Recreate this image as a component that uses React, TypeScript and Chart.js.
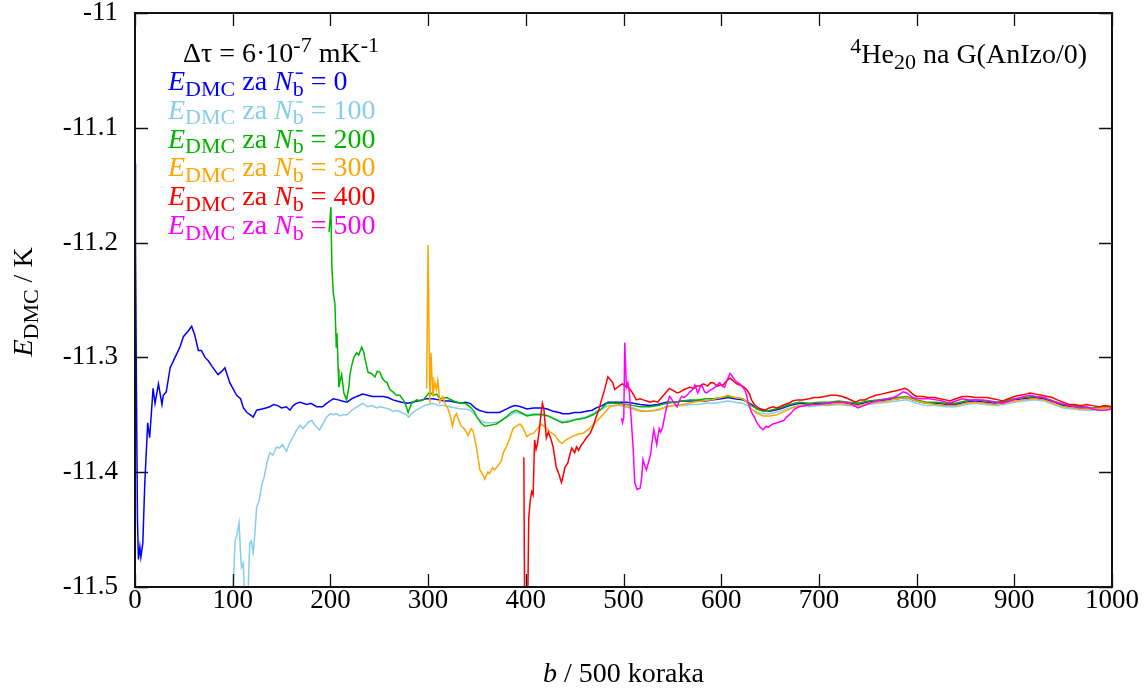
import { useEffect, useRef } from "react";
import { Chart, registerables } from "chart.js";

Chart.register(...registerables);

// ---------- data (b / 500 koraka, E_DMC / K) ----------
const nbLabels = ["0", "100", "200", "300", "400", "500"];
const seriesColors = ["#0000ff", "#87ceeb", "#00b400", "#ffa500", "#ff0000", "#ff00ff"];

const xTickValues = [0, 100, 200, 300, 400, 500, 600, 700, 800, 900, 1000];
const yTickValues = [-11.5, -11.4, -11.3, -11.2, -11.1, -11.0];

const eN0: [number, number][] = [
  [0, -11.131], [0.5, -11.2], [1.5, -11.33], [2.5, -11.44], [3.5, -11.476], [5, -11.465], [6, -11.474],
  [8, -11.462], [10, -11.41], [13, -11.357], [15, -11.37], [18.5, -11.327], [20.5, -11.34], [24, -11.323],
  [27.6, -11.341], [29, -11.333], [32, -11.33], [36, -11.309], [41, -11.3], [46, -11.291], [49.5, -11.282],
  [54.5, -11.277], [58, -11.273], [61, -11.28], [64.8, -11.294], [68, -11.294], [71.6, -11.3], [75, -11.303],
  [79, -11.308], [85, -11.315], [89, -11.312], [92, -11.309], [97, -11.322], [104, -11.333], [108, -11.336],
  [111, -11.344], [114.6, -11.348], [118, -11.35], [121, -11.352], [124.5, -11.346], [130, -11.345],
  [134, -11.344], [138, -11.343], [142, -11.341], [146, -11.342], [150, -11.344], [155, -11.343],
  [158.6, -11.346], [162, -11.342], [165, -11.34], [169, -11.339], [172, -11.34], [176, -11.341],
  [180, -11.34], [186, -11.343], [192, -11.343], [196, -11.34], [203, -11.336], [208, -11.337],
  [212, -11.338], [217, -11.339], [222, -11.336], [227, -11.334], [233, -11.332], [238, -11.333],
  [243, -11.334], [249, -11.334], [254, -11.334], [259, -11.335], [264, -11.337], [268, -11.338],
  [273, -11.339], [279, -11.34], [284, -11.339], [289, -11.338], [294, -11.337], [298, -11.336],
  [305, -11.336], [311, -11.337], [317, -11.338], [322, -11.338], [328, -11.339], [334, -11.34],
  [338, -11.339], [343, -11.34], [348, -11.344], [352, -11.346], [356, -11.347], [360, -11.348],
  [366, -11.348], [373, -11.348], [380, -11.345], [385, -11.343], [389, -11.342], [395, -11.343],
  [401, -11.345], [408, -11.344], [417, -11.344], [422, -11.345], [428, -11.347], [434, -11.348],
  [438, -11.349], [444, -11.349], [450, -11.348], [456, -11.348], [462, -11.347], [468, -11.346],
  [472, -11.344], [478, -11.342], [484, -11.339], [490, -11.339], [496, -11.339], [503, -11.339],
  [510, -11.34], [517, -11.341], [527, -11.342], [535, -11.341], [544, -11.339], [552, -11.339],
  [560, -11.338], [568, -11.338], [576, -11.338], [584, -11.338], [592, -11.337], [600, -11.336],
  [607, -11.335], [614, -11.336], [622, -11.337], [627, -11.339], [631, -11.341], [637, -11.345],
  [643, -11.346], [650, -11.347], [660, -11.345], [670, -11.342], [680, -11.34], [690, -11.341],
  [700, -11.34], [710, -11.34], [720, -11.339], [730, -11.34], [740, -11.341], [750, -11.339],
  [760, -11.338], [770, -11.337], [780, -11.336], [790, -11.335], [800, -11.338], [810, -11.34],
  [820, -11.34], [830, -11.341], [840, -11.341], [850, -11.339], [860, -11.338], [870, -11.339],
  [880, -11.34], [890, -11.339], [900, -11.337], [910, -11.336], [920, -11.335], [930, -11.336],
  [940, -11.339], [950, -11.342], [960, -11.343], [970, -11.344], [980, -11.345], [990, -11.344],
  [1000, -11.344],
];

const eN100: [number, number][] = [
  [99, -11.52], [101, -11.49], [102.5, -11.46], [104, -11.456], [106.5, -11.444], [108, -11.47],
  [109, -11.483], [111, -11.479], [112.5, -11.52], [115, -11.52], [117.5, -11.462], [119, -11.46],
  [121, -11.47], [123, -11.45], [124.5, -11.43], [127, -11.425], [130, -11.41], [132, -11.405],
  [135, -11.392], [138, -11.383], [141, -11.385], [145, -11.378], [148, -11.379], [151, -11.376],
  [155, -11.382], [158, -11.375], [162, -11.369], [165, -11.364], [169, -11.359], [172, -11.362],
  [174, -11.36], [178, -11.356], [181, -11.355], [185, -11.36], [189, -11.363], [193, -11.357],
  [196, -11.352], [200, -11.349], [203, -11.35], [206, -11.349], [210, -11.351], [213, -11.35],
  [217, -11.35], [222, -11.346], [227, -11.343], [233, -11.34], [238, -11.343], [243, -11.342],
  [247, -11.344], [251, -11.343], [256, -11.344], [260, -11.345], [264, -11.347], [268, -11.346],
  [273, -11.348], [278, -11.35], [280, -11.352], [284, -11.348], [288, -11.346], [292, -11.344],
  [296, -11.342], [300, -11.341], [305, -11.34], [311, -11.342], [317, -11.342], [322, -11.343],
  [328, -11.344], [334, -11.345], [338, -11.345], [343, -11.346], [348, -11.35], [352, -11.354],
  [356, -11.356], [360, -11.357], [366, -11.357], [373, -11.356], [380, -11.352], [385, -11.35],
  [389, -11.348], [395, -11.349], [401, -11.35], [408, -11.349], [414, -11.349], [420, -11.35],
  [428, -11.353], [434, -11.355], [438, -11.356], [444, -11.355], [450, -11.354], [456, -11.353],
  [462, -11.352], [468, -11.349], [472, -11.347], [478, -11.345], [484, -11.342], [490, -11.342],
  [496, -11.342], [503, -11.343], [510, -11.344], [517, -11.346], [527, -11.347], [535, -11.346],
  [544, -11.343], [552, -11.342], [560, -11.342], [568, -11.341], [576, -11.341], [584, -11.34],
  [592, -11.34], [600, -11.339], [607, -11.338], [614, -11.339], [622, -11.34], [627, -11.342],
  [631, -11.345], [637, -11.348], [643, -11.349], [650, -11.349], [660, -11.347], [670, -11.344],
  [680, -11.342], [690, -11.343], [700, -11.342], [710, -11.342], [720, -11.341], [730, -11.342],
  [740, -11.343], [750, -11.341], [760, -11.34], [770, -11.339], [780, -11.338], [790, -11.337],
  [800, -11.34], [810, -11.342], [820, -11.342], [830, -11.343], [840, -11.343], [850, -11.341],
  [860, -11.34], [870, -11.341], [880, -11.342], [890, -11.341], [900, -11.339], [910, -11.338],
  [920, -11.337], [930, -11.338], [940, -11.341], [950, -11.344], [960, -11.345], [970, -11.346],
  [980, -11.346], [990, -11.345], [1000, -11.345],
];

const eN200: [number, number][] = [
  [198.6, -11.191], [200.5, -11.169], [201.5, -11.221], [203, -11.244], [204.6, -11.253], [205.6, -11.279],
  [206, -11.291], [206.7, -11.279], [208, -11.31], [208.7, -11.326], [210, -11.32], [211.5, -11.315],
  [213.8, -11.331], [216.5, -11.337], [218.9, -11.326], [220, -11.315], [221.6, -11.308], [224, -11.3],
  [226.9, -11.296], [229, -11.298], [232, -11.291], [234, -11.295], [235.6, -11.302], [238.6, -11.313],
  [242, -11.314], [245.6, -11.317], [248, -11.312], [250.7, -11.313], [253, -11.318], [255.8, -11.321],
  [258, -11.322], [260.9, -11.328], [264, -11.33], [267.7, -11.333], [271, -11.333], [274.5, -11.337],
  [277, -11.341], [279.6, -11.348], [283, -11.34], [288.4, -11.337], [292, -11.338], [295, -11.337],
  [298, -11.334], [301.8, -11.33], [305, -11.333], [308.6, -11.332], [312, -11.336], [319, -11.335],
  [326, -11.338], [333, -11.34], [338, -11.34], [343, -11.343], [347, -11.347], [350, -11.352],
  [354, -11.357], [358, -11.36], [364, -11.359], [370, -11.358], [375, -11.355], [380, -11.352],
  [385, -11.348], [390, -11.346], [395, -11.348], [401, -11.351], [408, -11.35], [417, -11.35],
  [423, -11.351], [430, -11.354], [437, -11.357], [444, -11.356], [452, -11.354], [460, -11.353],
  [469, -11.35], [476, -11.346], [483, -11.34], [490, -11.34], [496, -11.34], [503, -11.341],
  [510, -11.342], [517, -11.343], [527, -11.343], [535, -11.342], [544, -11.34], [552, -11.339],
  [560, -11.338], [568, -11.337], [576, -11.337], [584, -11.336], [592, -11.336], [600, -11.335],
  [607, -11.334], [614, -11.335], [622, -11.336], [627, -11.339], [631, -11.342], [637, -11.345],
  [643, -11.347], [650, -11.346], [660, -11.344], [670, -11.341], [680, -11.339], [690, -11.34],
  [700, -11.339], [710, -11.339], [720, -11.338], [730, -11.339], [740, -11.34], [750, -11.338],
  [760, -11.337], [770, -11.336], [780, -11.335], [790, -11.334], [800, -11.337], [810, -11.339],
  [820, -11.339], [830, -11.34], [840, -11.34], [850, -11.338], [860, -11.337], [870, -11.338],
  [880, -11.339], [890, -11.338], [900, -11.336], [910, -11.335], [920, -11.334], [930, -11.335],
  [940, -11.338], [950, -11.341], [960, -11.342], [970, -11.343], [980, -11.344], [990, -11.343],
  [1000, -11.343],
];

const eN300: [number, number][] = [
  [298.5, -11.327], [300, -11.202], [301.8, -11.34], [303, -11.296], [304, -11.317], [305, -11.334],
  [306.9, -11.322], [308.6, -11.328], [310, -11.32], [312, -11.339], [315, -11.334], [317, -11.34],
  [320, -11.344], [323, -11.352], [325, -11.36], [327, -11.352], [329, -11.349], [332, -11.356],
  [334, -11.36], [337, -11.362], [341, -11.368], [344, -11.362], [346, -11.364], [348, -11.372],
  [350, -11.381], [353, -11.398], [356, -11.402], [358, -11.406], [361, -11.4], [363, -11.401],
  [366, -11.396], [368, -11.398], [372, -11.394], [375, -11.39], [377, -11.383], [380, -11.378],
  [382, -11.374], [385, -11.367], [387, -11.362], [390, -11.36], [394, -11.358], [397, -11.361],
  [401, -11.369], [404, -11.367], [408, -11.366], [412, -11.362], [416, -11.358], [420, -11.361],
  [425, -11.365], [430, -11.368], [434, -11.373], [437, -11.375], [441, -11.372], [447, -11.369],
  [453, -11.367], [459, -11.366], [465, -11.362], [472, -11.356], [479, -11.35], [486, -11.343],
  [491, -11.342], [496, -11.341], [503, -11.343], [510, -11.345], [517, -11.347], [524, -11.347],
  [532, -11.346], [538, -11.345], [544, -11.343], [552, -11.342], [560, -11.341], [571, -11.339],
  [580, -11.338], [590, -11.337], [600, -11.335], [607, -11.333], [614, -11.335], [622, -11.336],
  [627, -11.34], [631, -11.345], [637, -11.349], [643, -11.351], [650, -11.351], [657, -11.35],
  [665, -11.347], [673, -11.344], [680, -11.342], [690, -11.342], [700, -11.341], [710, -11.341],
  [720, -11.34], [730, -11.341], [740, -11.342], [750, -11.34], [760, -11.339], [770, -11.338],
  [780, -11.336], [790, -11.335], [800, -11.338], [810, -11.34], [820, -11.341], [830, -11.342],
  [840, -11.342], [850, -11.34], [860, -11.339], [870, -11.34], [880, -11.341], [890, -11.34],
  [900, -11.338], [910, -11.337], [920, -11.336], [930, -11.337], [940, -11.34], [950, -11.343],
  [960, -11.344], [970, -11.345], [980, -11.345], [990, -11.344], [1000, -11.344],
];

const eN400: [number, number][] = [
  [398, -11.387], [399, -11.55], [401.5, -11.55], [403, -11.44], [404.5, -11.425], [406, -11.417],
  [407.5, -11.42], [409, -11.372], [410.5, -11.38], [412, -11.375], [414, -11.362], [415.5, -11.35],
  [417, -11.34], [418.5, -11.345], [419.5, -11.355], [421, -11.37], [423, -11.365], [424.5, -11.368],
  [426, -11.372], [428, -11.378], [431, -11.395], [434, -11.402], [436.5, -11.409], [438, -11.404],
  [440, -11.396], [443, -11.392], [445, -11.385], [447, -11.379], [450, -11.383], [452, -11.378],
  [454, -11.381], [457, -11.376], [459, -11.374], [462, -11.37], [466, -11.366], [469, -11.36],
  [472, -11.352], [475, -11.345], [477.5, -11.337], [481, -11.327], [484, -11.317], [487, -11.32],
  [489, -11.322], [491, -11.328], [494, -11.326], [497, -11.324], [499, -11.323], [502, -11.325],
  [506, -11.327], [510, -11.332], [513, -11.337], [517, -11.336], [520, -11.337], [524, -11.338],
  [527, -11.339], [531, -11.338], [535, -11.339], [539, -11.335], [543, -11.331], [547, -11.327],
  [551, -11.329], [555, -11.331], [558, -11.33], [562, -11.328], [565, -11.327], [568, -11.326],
  [572, -11.327], [575, -11.325], [578, -11.325], [582, -11.323], [586, -11.325], [589, -11.322],
  [592, -11.322], [596, -11.325], [599, -11.324], [602, -11.324], [606, -11.32], [609, -11.318],
  [613, -11.321], [616, -11.323], [619, -11.324], [622, -11.325], [626, -11.328], [629, -11.332],
  [631, -11.337], [634, -11.341], [638, -11.344], [641, -11.345], [645, -11.346], [649, -11.344],
  [653, -11.343], [657, -11.344], [660, -11.343], [665, -11.341], [669, -11.34], [673, -11.338],
  [678, -11.337], [683, -11.337], [690, -11.336], [695, -11.335], [700, -11.335], [706, -11.334],
  [712, -11.333], [718, -11.333], [724, -11.334], [730, -11.336], [735, -11.338], [738, -11.339],
  [742, -11.337], [747, -11.337], [752, -11.335], [758, -11.333], [764, -11.332], [769, -11.331],
  [774, -11.33], [779, -11.329], [784, -11.328], [788, -11.327], [791, -11.328], [796, -11.332],
  [800, -11.334], [806, -11.334], [812, -11.335], [818, -11.335], [824, -11.336], [830, -11.337],
  [834, -11.338], [840, -11.336], [847, -11.334], [853, -11.334], [860, -11.335], [866, -11.335],
  [872, -11.335], [878, -11.336], [884, -11.337], [888, -11.338], [894, -11.336], [900, -11.334],
  [906, -11.333], [912, -11.332], [916, -11.331], [922, -11.332], [928, -11.333], [934, -11.334],
  [939, -11.335], [944, -11.337], [950, -11.339], [956, -11.341], [962, -11.341], [968, -11.342],
  [974, -11.341], [980, -11.342], [987, -11.343], [993, -11.342], [1000, -11.343],
];

const eN500: [number, number][] = [
  [498, -11.353], [499, -11.357], [500.3, -11.352], [501.3, -11.287], [503, -11.326], [504.5, -11.322],
  [506, -11.33], [508, -11.355], [510, -11.381], [511.5, -11.409], [514, -11.415], [517, -11.414],
  [518.5, -11.405], [520, -11.389], [522, -11.395], [523.5, -11.398], [526, -11.39], [527.6, -11.385],
  [529, -11.375], [531, -11.363], [534, -11.376], [536.5, -11.362], [538, -11.365], [540, -11.361],
  [542, -11.352], [544, -11.344], [547, -11.334], [549, -11.336], [551, -11.339], [555, -11.343],
  [557, -11.338], [559.5, -11.334], [562, -11.335], [565, -11.333], [568, -11.33], [571, -11.328],
  [573, -11.324], [576, -11.331], [578, -11.327], [580, -11.324], [583, -11.33], [585, -11.331],
  [588, -11.329], [592, -11.327], [595, -11.325], [598.5, -11.322], [601, -11.325], [603.5, -11.326],
  [606, -11.32], [609, -11.314], [611, -11.316], [614, -11.32], [617, -11.322], [619, -11.323],
  [622, -11.326], [624, -11.328], [626, -11.333], [627.5, -11.339], [631, -11.348], [634, -11.352],
  [636, -11.356], [640, -11.361], [643, -11.363], [646, -11.36], [648, -11.361], [651, -11.359],
  [653, -11.358], [657, -11.357], [660, -11.356], [664, -11.355], [667, -11.352], [671, -11.349],
  [675, -11.345], [680, -11.343], [686, -11.342], [692, -11.341], [700, -11.341], [708, -11.34],
  [716, -11.339], [722, -11.339], [728, -11.339], [734, -11.341], [740, -11.344], [746, -11.342],
  [752, -11.34], [758, -11.338], [764, -11.337], [770, -11.336], [776, -11.335], [781, -11.333],
  [786, -11.33], [790, -11.331], [796, -11.335], [802, -11.336], [808, -11.336], [813, -11.336],
  [820, -11.337], [826, -11.338], [834, -11.34], [840, -11.338], [847, -11.336], [854, -11.337],
  [860, -11.337], [868, -11.337], [875, -11.338], [882, -11.339], [888, -11.34], [895, -11.338],
  [902, -11.336], [910, -11.334], [916, -11.333], [922, -11.334], [930, -11.335], [936, -11.337],
  [942, -11.339], [948, -11.34], [956, -11.342], [962, -11.343], [968, -11.344], [974, -11.343],
  [980, -11.345], [987, -11.346], [993, -11.346], [1000, -11.345],
];

const allSeries = [eN0, eN100, eN200, eN300, eN400, eN500];

// ---------- text helpers ----------
type Seg = { t: string; it?: boolean; sub?: boolean; sup?: boolean; bar?: boolean };
const FAMILY = '"Liberation Serif", "Times New Roman", serif';

function segFont(s: Seg, size: number) {
  const sz = s.sub || s.sup ? Math.round(size * 0.8) : size;
  return `${s.it ? "italic " : ""}${sz}px ${FAMILY}`;
}

function richWidth(ctx: CanvasRenderingContext2D, segs: Seg[], size: number) {
  let w = 0;
  for (const s of segs) {
    ctx.font = segFont(s, size);
    w += ctx.measureText(s.t).width;
  }
  return w;
}

function drawRich(
  ctx: CanvasRenderingContext2D,
  segs: Seg[],
  x: number,
  y: number,
  size: number,
  color: string,
  align: "left" | "right" | "center" = "left"
) {
  const w = richWidth(ctx, segs, size);
  let cx = align === "right" ? x - w : align === "center" ? x - w / 2 : x;
  ctx.fillStyle = color;
  ctx.strokeStyle = color;
  ctx.textAlign = "left";
  ctx.textBaseline = "alphabetic";
  for (const s of segs) {
    ctx.font = segFont(s, size);
    const dy = s.sub ? size * 0.2 : s.sup ? -size * 0.36 : 0;
    ctx.fillText(s.t, cx, y + dy);
    const sw = ctx.measureText(s.t).width;
    if (s.bar) {
      ctx.lineWidth = 1.5;
      ctx.beginPath();
      ctx.moveTo(cx + 3, y - size * 0.6);
      ctx.lineTo(cx + 10, y - size * 0.6);
      ctx.stroke();
    }
    cx += sw;
  }
}

const textPlugin = {
  id: "gnuplotText",
  afterDraw(chart: any) {
    const ctx: CanvasRenderingContext2D = chart.ctx;
    const size = 28;
    ctx.save();
    drawRich(
      ctx,
      [{ t: "Δτ = 6·10" }, { t: "-7", sup: true }, { t: " mK" }, { t: "-1", sup: true }],
      183,
      62,
      size,
      "#000"
    );
    nbLabels.forEach((lab, i) => {
      drawRich(
        ctx,
        [
          { t: "E", it: true },
          { t: "DMC", sub: true },
          { t: " za " },
          { t: "N", it: true },
          { t: "b", sub: true, bar: true },
          { t: " = " + lab },
        ],
        168,
        90 + i * 28.8,
        size,
        seriesColors[i]
      );
    });
    drawRich(
      ctx,
      [{ t: "4", sup: true }, { t: "He" }, { t: "20", sub: true }, { t: " na G(AnIzo/0)" }],
      1087,
      63,
      size,
      "#000",
      "right"
    );
    const area = chart.chartArea;
    drawRich(ctx, [{ t: "b", it: true }, { t: " / 500 koraka" }], (area.left + area.right) / 2, 682, size, "#000", "center");
    ctx.translate(32, (area.top + area.bottom) / 2 + 2);
    ctx.rotate(-Math.PI / 2);
    drawRich(ctx, [{ t: "E", it: true }, { t: "DMC", sub: true }, { t: " / K" }], 0, 0, size, "#000", "center");
    ctx.restore();
  },
};

const framePlugin = {
  id: "gnuplotFrame",
  afterDatasetsDraw(chart: any) {
    const ctx: CanvasRenderingContext2D = chart.ctx;
    const { left, right, top, bottom } = chart.chartArea;
    const xs = chart.scales.x;
    const ys = chart.scales.y;
    const tl = 13;
    ctx.save();
    ctx.strokeStyle = "#111";
    ctx.lineWidth = 1.3;
    ctx.beginPath();
    for (const t of xs.ticks) {
      const px = Math.round(xs.getPixelForValue(t.value)) + 0.5;
      ctx.moveTo(px, bottom);
      ctx.lineTo(px, bottom - tl);
      ctx.moveTo(px, top);
      ctx.lineTo(px, top + tl);
    }
    for (const t of ys.ticks) {
      const py = Math.round(ys.getPixelForValue(t.value)) + 0.5;
      ctx.moveTo(left, py);
      ctx.lineTo(left + tl, py);
      ctx.moveTo(right, py);
      ctx.lineTo(right - tl, py);
    }
    ctx.stroke();
    ctx.lineWidth = 2;
    ctx.strokeStyle = "#111";
    ctx.strokeRect(left, top, right - left, bottom - top);
    ctx.restore();
  },
};

export default function App() {
  const canvasRef = useRef<HTMLCanvasElement | null>(null);

  useEffect(() => {
    if (!canvasRef.current) return;
    const chart = new Chart(canvasRef.current, {
      type: "line",
      data: {
        datasets: allSeries.map((s, i) => ({
          label: "N_b = " + nbLabels[i],
          data: s.map(([x, y]) => ({ x, y })),
          borderColor: seriesColors[i],
          backgroundColor: seriesColors[i],
          borderWidth: 1.5,
          pointRadius: 0,
          tension: 0,
          fill: false,
          order: 5 - i,
        })),
      },
      options: {
        responsive: false,
        animation: false,
        events: [],
        layout: { padding: { top: 13, right: 35, left: 0, bottom: 0 } },
        plugins: { legend: { display: false }, tooltip: { enabled: false } },
        scales: {
          x: {
            type: "linear",
            min: 0,
            max: 1000,
            grid: { display: false, drawTicks: false },
            border: { display: false },
            afterBuildTicks: (s: any) => {
              s.ticks = xTickValues.map((v) => ({ value: v }));
            },
            afterFit: (s: any) => {
              s.height = 101;
              s.paddingLeft = 0;
              s.paddingRight = 0;
            },
            ticks: {
              color: "#000",
              padding: 0,
              maxRotation: 0,
              autoSkip: false,
              font: { family: FAMILY, size: 27, lineHeight: 1 },
              callback: (v: any) => String(v),
            },
          },
          y: {
            type: "linear",
            min: -11.5,
            max: -11,
            grid: { display: false, drawTicks: false },
            border: { display: false },
            afterBuildTicks: (s: any) => {
              s.ticks = yTickValues.map((v) => ({ value: v }));
            },
            afterFit: (s: any) => {
              s.width = 135;
              s.paddingTop = 0;
              s.paddingBottom = 0;
            },
            ticks: {
              color: "#000",
              padding: 17,
              autoSkip: false,
              font: { family: FAMILY, size: 27, lineHeight: 0.9 },
              callback: (v: any) => {
                const n = Number(v);
                return Math.abs(n - Math.round(n)) < 1e-9 ? String(Math.round(n)) : n.toFixed(1);
              },
            },
          },
        },
      },
      plugins: [framePlugin, textPlugin],
    });
    return () => chart.destroy();
  }, []);

  return (
    <div style={{ position: "fixed", left: 0, top: 0, width: 1147, height: 688, background: "#fff" }}>
      <canvas ref={canvasRef} width={1147} height={688} style={{ display: "block" }} />
    </div>
  );
}
